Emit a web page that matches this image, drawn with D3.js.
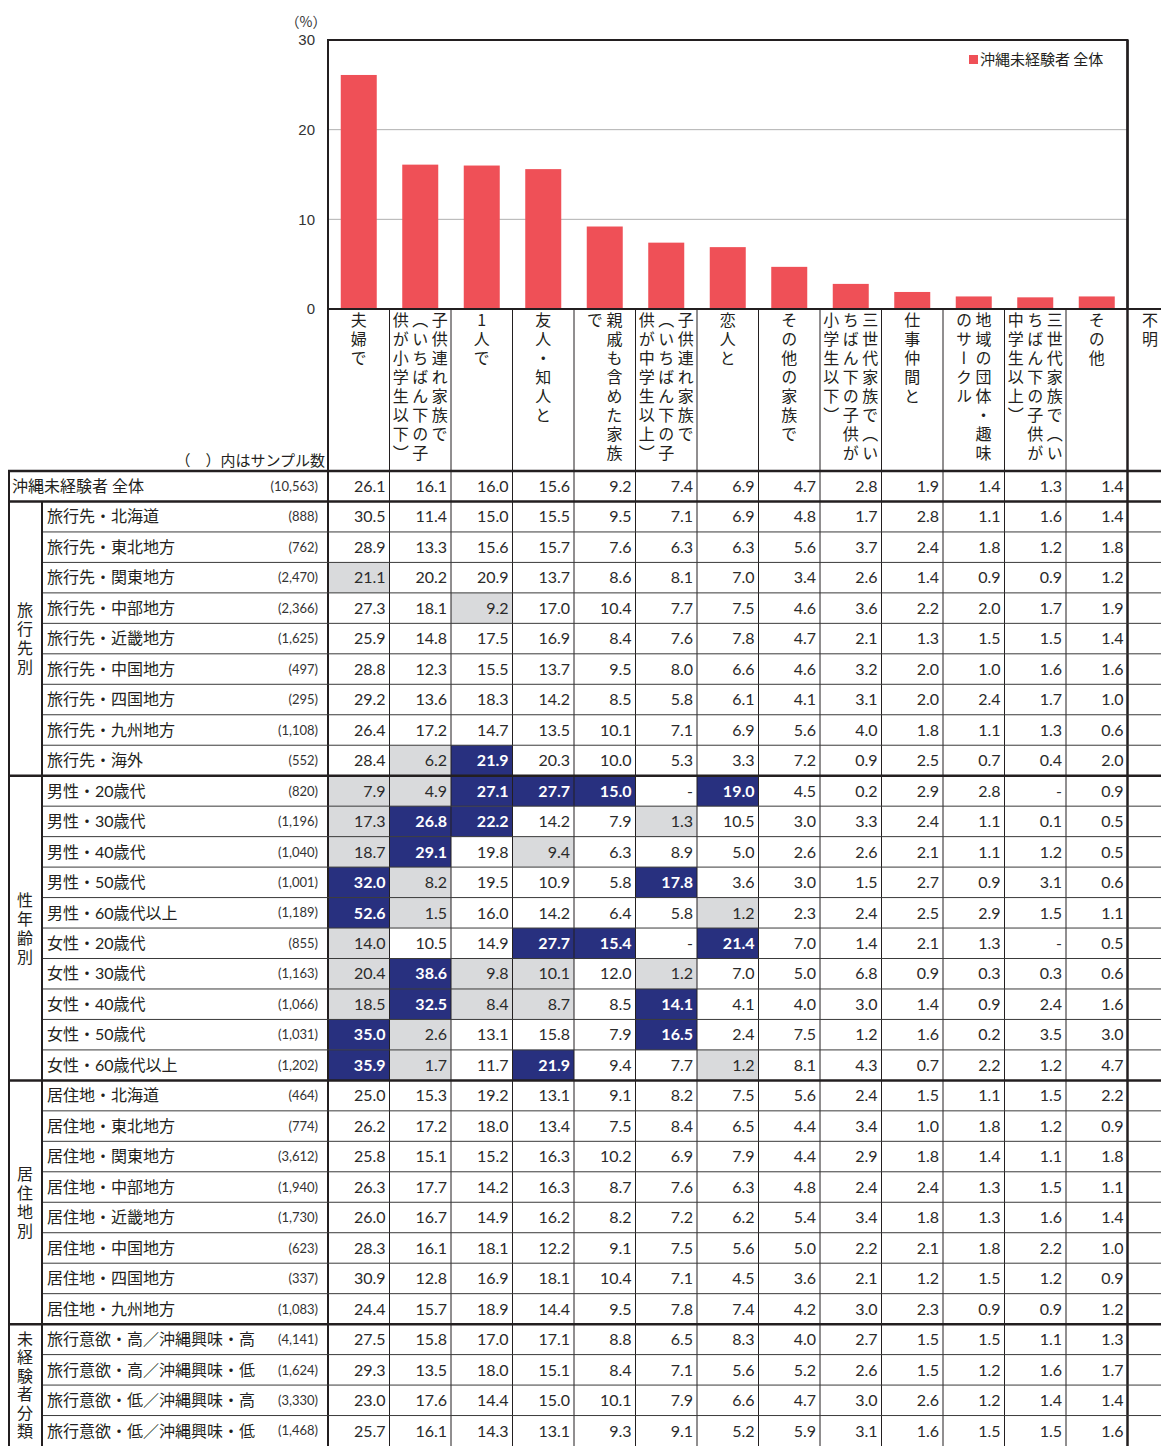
<!DOCTYPE html>
<html><head><meta charset="utf-8">
<script src="https://cdn.jsdelivr.net/npm/d3@7"></script>
<style>body{margin:0;background:#fff}svg{display:block}</style>
</head><body><div id="chart"></div>
<script>
// ---------- DATA ----------
const categories = ["夫婦で","子供連れ家族で（いちばん下の子供が小学生以下）","1人で","友人・知人と","親戚も含めた家族で","子供連れ家族で（いちばん下の子供が中学生以上）","恋人と","その他の家族で","三世代家族で（いちばん下の子供が小学生以下）","仕事仲間と","地域の団体・趣味のサークル","三世代家族で（いちばん下の子供が中学生以上）","その他","不明"];
const headerLines = [
  ["夫婦で"],
  ["子供連れ家族で","（いちばん下の子","供が小学生以下）"],
  ["1人で"],
  ["友人・知人と"],
  ["親戚も含めた家族","で"],
  ["子供連れ家族で","（いちばん下の子","供が中学生以上）"],
  ["恋人と"],
  ["その他の家族で"],
  ["三世代家族で（い","ちばん下の子供が","小学生以下）"],
  ["仕事仲間と"],
  ["地域の団体・趣味","のサークル"],
  ["三世代家族で（い","ちばん下の子供が","中学生以上）"],
  ["その他"],
  ["不明"]
];
const overallValues = [26.1,16.1,16.0,15.6,9.2,7.4,6.9,4.7,2.8,1.9,1.4,1.3,1.4];
const yTicks = [0,10,20,30];
const legendLabel = "沖縄未経験者 全体";
const groupNames = ["旅行先別","性年齢別","居住地別","未経験者分類"];
const groupSizes = [9,10,8,4];
const rowLabels = ["沖縄未経験者 全体",
 "旅行先・北海道","旅行先・東北地方","旅行先・関東地方","旅行先・中部地方","旅行先・近畿地方","旅行先・中国地方","旅行先・四国地方","旅行先・九州地方","旅行先・海外",
 "男性・20歳代","男性・30歳代","男性・40歳代","男性・50歳代","男性・60歳代以上","女性・20歳代","女性・30歳代","女性・40歳代","女性・50歳代","女性・60歳代以上",
 "居住地・北海道","居住地・東北地方","居住地・関東地方","居住地・中部地方","居住地・近畿地方","居住地・中国地方","居住地・四国地方","居住地・九州地方",
 "旅行意欲・高／沖縄興味・高","旅行意欲・高／沖縄興味・低","旅行意欲・低／沖縄興味・高","旅行意欲・低／沖縄興味・低"];
const sampleSizes = [10563,888,762,2470,2366,1625,497,295,1108,552,820,1196,1040,1001,1189,855,1163,1066,1031,1202,464,774,3612,1940,1730,623,337,1083,4141,1624,3330,1468];
const tableValues = [
 "26.1 16.1 16.0 15.6 9.2 7.4 6.9 4.7 2.8 1.9 1.4 1.3 1.4",
 "30.5 11.4 15.0 15.5 9.5 7.1 6.9 4.8 1.7 2.8 1.1 1.6 1.4",
 "28.9 13.3 15.6 15.7 7.6 6.3 6.3 5.6 3.7 2.4 1.8 1.2 1.8",
 "21.1 20.2 20.9 13.7 8.6 8.1 7.0 3.4 2.6 1.4 0.9 0.9 1.2",
 "27.3 18.1 9.2 17.0 10.4 7.7 7.5 4.6 3.6 2.2 2.0 1.7 1.9",
 "25.9 14.8 17.5 16.9 8.4 7.6 7.8 4.7 2.1 1.3 1.5 1.5 1.4",
 "28.8 12.3 15.5 13.7 9.5 8.0 6.6 4.6 3.2 2.0 1.0 1.6 1.6",
 "29.2 13.6 18.3 14.2 8.5 5.8 6.1 4.1 3.1 2.0 2.4 1.7 1.0",
 "26.4 17.2 14.7 13.5 10.1 7.1 6.9 5.6 4.0 1.8 1.1 1.3 0.6",
 "28.4 6.2 21.9 20.3 10.0 5.3 3.3 7.2 0.9 2.5 0.7 0.4 2.0",
 "7.9 4.9 27.1 27.7 15.0 - 19.0 4.5 0.2 2.9 2.8 - 0.9",
 "17.3 26.8 22.2 14.2 7.9 1.3 10.5 3.0 3.3 2.4 1.1 0.1 0.5",
 "18.7 29.1 19.8 9.4 6.3 8.9 5.0 2.6 2.6 2.1 1.1 1.2 0.5",
 "32.0 8.2 19.5 10.9 5.8 17.8 3.6 3.0 1.5 2.7 0.9 3.1 0.6",
 "52.6 1.5 16.0 14.2 6.4 5.8 1.2 2.3 2.4 2.5 2.9 1.5 1.1",
 "14.0 10.5 14.9 27.7 15.4 - 21.4 7.0 1.4 2.1 1.3 - 0.5",
 "20.4 38.6 9.8 10.1 12.0 1.2 7.0 5.0 6.8 0.9 0.3 0.3 0.6",
 "18.5 32.5 8.4 8.7 8.5 14.1 4.1 4.0 3.0 1.4 0.9 2.4 1.6",
 "35.0 2.6 13.1 15.8 7.9 16.5 2.4 7.5 1.2 1.6 0.2 3.5 3.0",
 "35.9 1.7 11.7 21.9 9.4 7.7 1.2 8.1 4.3 0.7 2.2 1.2 4.7",
 "25.0 15.3 19.2 13.1 9.1 8.2 7.5 5.6 2.4 1.5 1.1 1.5 2.2",
 "26.2 17.2 18.0 13.4 7.5 8.4 6.5 4.4 3.4 1.0 1.8 1.2 0.9",
 "25.8 15.1 15.2 16.3 10.2 6.9 7.9 4.4 2.9 1.8 1.4 1.1 1.8",
 "26.3 17.7 14.2 16.3 8.7 7.6 6.3 4.8 2.4 2.4 1.3 1.5 1.1",
 "26.0 16.7 14.9 16.2 8.2 7.2 6.2 5.4 3.4 1.8 1.3 1.6 1.4",
 "28.3 16.1 18.1 12.2 9.1 7.5 5.6 5.0 2.2 2.1 1.8 2.2 1.0",
 "30.9 12.8 16.9 18.1 10.4 7.1 4.5 3.6 2.1 1.2 1.5 1.2 0.9",
 "24.4 15.7 18.9 14.4 9.5 7.8 7.4 4.2 3.0 2.3 0.9 0.9 1.2",
 "27.5 15.8 17.0 17.1 8.8 6.5 8.3 4.0 2.7 1.5 1.5 1.1 1.3",
 "29.3 13.5 18.0 15.1 8.4 7.1 5.6 5.2 2.6 1.5 1.2 1.6 1.7",
 "23.0 17.6 14.4 15.0 10.1 7.9 6.6 4.7 3.0 2.6 1.2 1.4 1.4",
 "25.7 16.1 14.3 13.1 9.3 9.1 5.2 5.9 3.1 1.6 1.5 1.5 1.6"
];
// H = significantly higher (navy), L = lower (gray), . = none
const cellMarks = [
 ".............",
 ".............",".............","L............","..L..........",".............",".............",".............",".............",".LH..........",
 "LLHHH.H......","LHH..L.......","LH.L.........","HL...H.......","HL....L......","L..HH.H......","LHLL.L.......","LHLL.H.......","HL...H.......","HL.H..L......",
 ".............",".............",".............",".............",".............",".............",".............",".............",
 ".............",".............",".............","............."
];

// ---------- LAYOUT ----------
const W = 1161, H = 1446;
const plotL = 328, colW = 61.5, plotR = plotL + 13*colW;
const plotTop = 40, plotBottom = 309;
const tableTop = 471, rowH = (H - tableTop)/32;
const red = "#ef5057", navy = "#28307f", grayCell = "#d9dadc", ink = "#231f20";
const jp = "'Noto Sans CJK JP', sans-serif";
const num = "Lato, 'Noto Sans CJK JP', sans-serif";

const svg = d3.select("#chart").append("svg").attr("width", W).attr("height", H)
  .style("font-family", jp);

const keys = d3.range(categories.length);
const x = d3.scaleBand().domain(keys).range([plotL, plotL + categories.length*colW]).padding(0);
const y = d3.scaleLinear().domain([0, 30]).range([plotBottom, plotTop]);

// gridlines
svg.append("g").selectAll("line").data(yTicks.filter(t => t > 0 && t < 30)).join("line")
  .attr("x1", plotL).attr("x2", plotR).attr("y1", d => y(d)).attr("y2", d => y(d))
  .attr("stroke", "#b0b0b0").attr("stroke-width", 1);

// bars
const barW = 36;
svg.append("g").selectAll("rect").data(overallValues).join("rect")
  .attr("x", (d, i) => x(i) + (colW - barW)/2)
  .attr("width", barW)
  .attr("y", d => y(d))
  .attr("height", d => y(0) - y(d))
  .attr("fill", red);

// y axis labels
svg.append("g").selectAll("text").data(yTicks).join("text")
  .attr("x", 315).attr("y", d => y(d)).attr("dy", "0.35em")
  .attr("text-anchor", "end").attr("font-size", 15)
  .attr("font-family", "'Liberation Sans', Arial, sans-serif").attr("fill", "#333")
  .text(d => d);
svg.append("text").attr("x", 306).attr("y", 22).attr("dy", "0.35em").attr("text-anchor", "middle")
  .attr("font-size", 14).attr("fill", "#333").text("（%）");

// plot frame
svg.append("rect").attr("x", plotL).attr("y", plotTop).attr("width", plotR - plotL).attr("height", plotBottom - plotTop)
  .attr("fill", "none").attr("stroke", ink).attr("stroke-width", 2);

// legend
svg.append("rect").attr("x", 969).attr("y", 55).attr("width", 9).attr("height", 9).attr("fill", red);
svg.append("text").attr("x", 980).attr("y", 60).attr("dy", "0.35em").attr("font-size", 15).attr("fill", ink).text(legendLabel);

// header vertical labels (one vertical text per wrapped line)
const hg = svg.append("g").attr("fill", ink).attr("font-size", 16);
headerLines.forEach((lines, i) => {
  let cx = x(i) + colW/2;
  if (cx > W - 11) cx = W - 11;
  const n = lines.length;
  lines.forEach((line, j) => {
    const lx = cx + ((n - 1)/2 - j) * 19.5;
    hg.append("text").attr("x", lx).attr("y", 312)
      .attr("writing-mode", "vertical-rl")
      .style("text-orientation", "upright")
      .style("letter-spacing", "3px")
      .text(line);
  });
});
svg.append("text").attr("x", 325).attr("y", 461).attr("dy", "0.35em").attr("text-anchor", "end")
  .attr("font-size", 15).attr("fill", ink).text("（　）内はサンプル数");

// table cells
const rowY = i => tableTop + i*rowH;
const cg = svg.append("g");
tableValues.forEach((rowStr, r) => {
  const vals = rowStr.split(" ");
  vals.forEach((v, c) => {
    const m = cellMarks[r][c];
    if (m !== ".") {
      cg.append("rect").attr("x", x(c)).attr("y", rowY(r)).attr("width", colW).attr("height", rowH)
        .attr("fill", m === "H" ? navy : grayCell);
    }
    cg.append("text").attr("x", x(c) + colW - 4).attr("y", rowY(r) + rowH/2).attr("dy", "0.36em")
      .attr("text-anchor", "end").attr("font-family", num).attr("font-size", 16)
      .attr("font-weight", m === "H" ? 700 : 400)
      .attr("fill", m === "H" ? "#fff" : "#2a2a2a").text(v);
  });
});

// row labels
const fmt = d3.format(",");
rowLabels.forEach((lab, r) => {
  cg.append("text").attr("x", r === 0 ? 12 : 47).attr("y", rowY(r) + rowH/2).attr("dy", "0.36em")
    .attr("font-family", num).attr("font-size", 16).attr("fill", ink).text(lab);
  cg.append("text").attr("x", 318).attr("y", rowY(r) + rowH/2).attr("dy", "0.36em")
    .attr("text-anchor", "end").attr("font-family", num).attr("font-size", 13).attr("fill", "#333")
    .text("(" + fmt(sampleSizes[r]) + ")");
});

// group labels (vertical)
let start = 1;
groupNames.forEach((g, gi) => {
  const s = start, e = start + groupSizes[gi];
  const mid = (rowY(s) + rowY(e))/2;
  const len = Array.from(g).length;
  const pitch = g.length > 4 ? 18.5 : 19;
  cg.append("text").attr("x", 25).attr("y", mid - (len*pitch)/2 + (pitch - 16)/2)
    .attr("writing-mode", "vertical-rl")
    .style("text-orientation", "upright")
    .style("letter-spacing", (pitch - 16) + "px")
    .attr("font-size", 16).attr("fill", ink).text(g);
  start = e;
});

// lines
const lg = svg.append("g").attr("stroke", ink);
d3.range(1, 13).forEach(c => {
  lg.append("line").attr("x1", x(c)).attr("x2", x(c)).attr("y1", plotBottom).attr("y2", H).attr("stroke-width", 1);
});
lg.append("line").attr("x1", plotL).attr("x2", plotL).attr("y1", plotTop).attr("y2", H).attr("stroke-width", 2);
lg.append("line").attr("x1", plotR).attr("x2", plotR).attr("y1", plotTop).attr("y2", H).attr("stroke-width", 2.5);
lg.append("line").attr("x1", plotL).attr("x2", W).attr("y1", plotBottom).attr("y2", plotBottom).attr("stroke-width", 2);
const thick = new Set([0, 1, 10, 20, 28]);
d3.range(0, 33).forEach(r => {
  const yy = rowY(r);
  if (thick.has(r)) {
    lg.append("line").attr("x1", 8).attr("x2", W).attr("y1", yy).attr("y2", yy).attr("stroke-width", 2.5);
  } else if (r < 32) {
    lg.append("line").attr("x1", 42).attr("x2", W).attr("y1", yy).attr("y2", yy).attr("stroke-width", 1).attr("stroke", "#3a3a3a");
  }
});
lg.append("line").attr("x1", 9).attr("x2", 9).attr("y1", tableTop).attr("y2", H).attr("stroke-width", 2);
lg.append("line").attr("x1", 42).attr("x2", 42).attr("y1", rowY(1)).attr("y2", H).attr("stroke-width", 2);
</script></body></html>
